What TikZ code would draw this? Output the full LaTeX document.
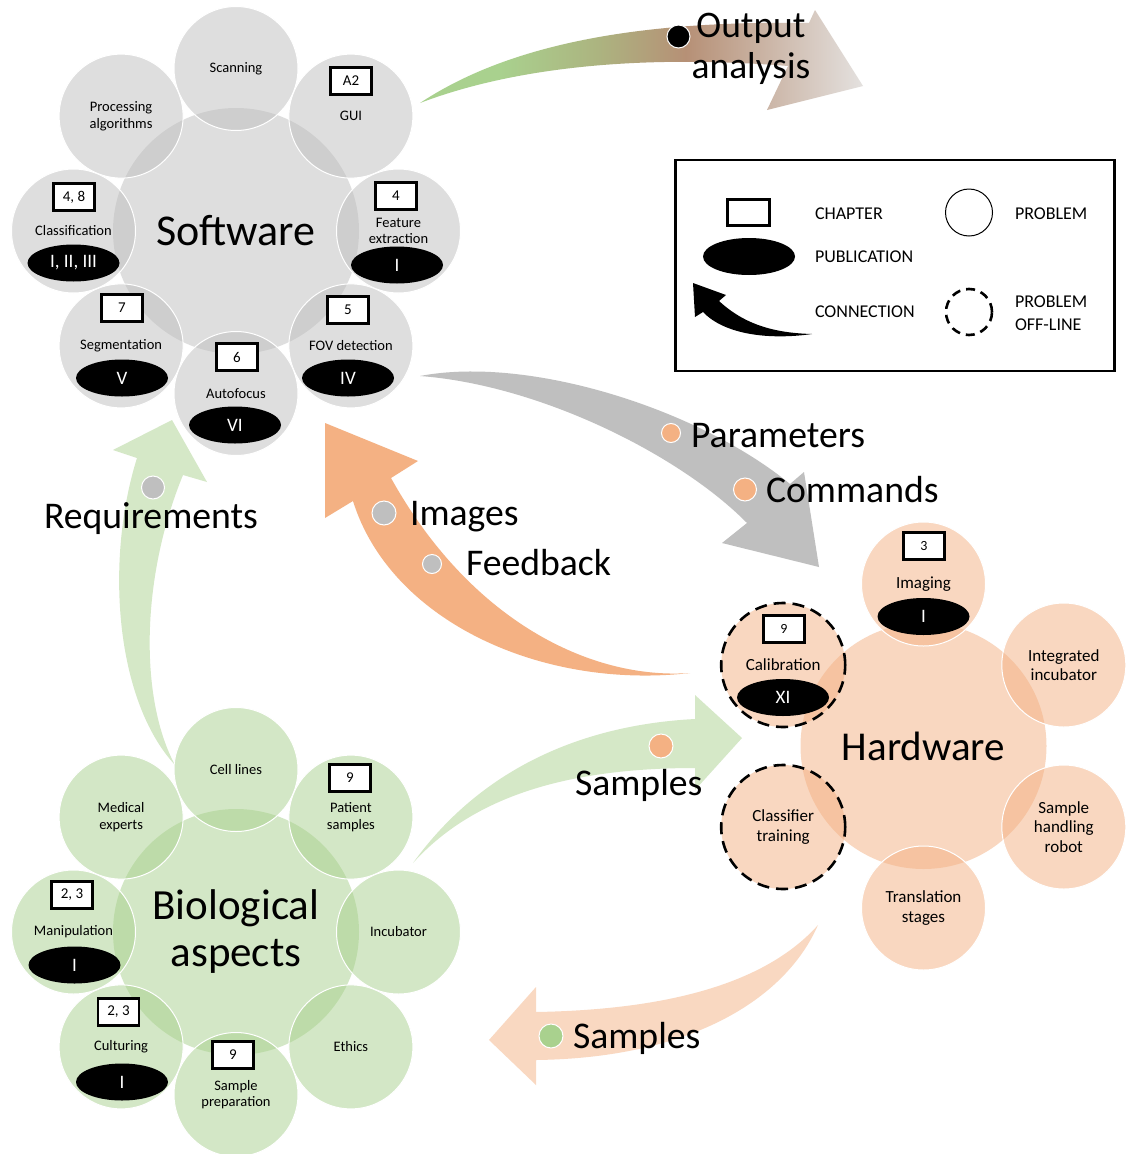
\documentclass[tikz,border=0pt]{standalone}
\usepackage{fontspec}
\setmainfont{Carlito}
\usetikzlibrary{shapes.geometric}
\definecolor{cgray}{RGB}{191,191,191}
\definecolor{corange}{RGB}{244,177,131}
\definecolor{cgreen}{RGB}{169,209,142}
\definecolor{clgreen}{RGB}{213,232,199}
\definecolor{clpeach}{RGB}{249,216,193}
\definecolor{cbrown}{RGB}{182,144,118}
\definecolor{colive}{RGB}{172,180,128}
\definecolor{clgray}{RGB}{228,225,223}
\pgfdeclarehorizontalshading{outsh}{100bp}{color(0bp)=(cgreen); color(25bp)=(cgreen); color(34bp)=(cgreen); color(45bp)=(colive); color(55bp)=(cbrown); color(75bp)=(clgray); color(100bp)=(clgray)}
\begin{document}
\begin{tikzpicture}[x=1pt,y=-1pt,
 every node/.style={inner sep=0pt,outer sep=0pt},
 hub/.style={circle,minimum size=246pt,fill=#1,fill opacity=0.5,text opacity=1,align=center},
 satc/.style={circle,minimum size=124pt,fill=#1,fill opacity=0.5,text opacity=1,draw=white,line width=1pt,align=center},
 dsat/.style={satc=corange,draw=black,line width=2.6pt,dash pattern=on 12pt off 7pt},
 chap/.style={draw=black,fill=white,line width=2.6pt,minimum width=41pt,minimum height=27pt,font=\fontsize{15}{15}\selectfont},
 pub/.style={ellipse,fill=black,minimum width=92pt,minimum height=37pt,text=white,font=\fontsize{19}{19}\selectfont},
 bead/.style={circle,fill=#1,draw=white,line width=1pt,minimum size=23pt},
 flowlbl/.style={font=\fontsize{37.7}{41}\selectfont,anchor=base west},
 bigtxt/.style={font=\fontsize{43}{47}\selectfont},
 stxt/.style={font=\fontsize{14.5}{16.5}\selectfont},
 htxt/.style={font=\fontsize{17}{19.5}\selectfont},
 legtxt/.style={font=\fontsize{18}{23}\selectfont,anchor=base west}
]
\useasboundingbox (0,0) rectangle (1127,1154);
\fill[white] (0,0) rectangle (1127,1154);

% ---------- block arrows ----------
\shade[shading=outsh]
  (420,103) .. controls (500,50) and (620,20) .. (809,23) -- (815,10) -- (863,86) -- (767,110) -- (788,66)
  .. controls (650,55) and (520,65) .. (420,103) -- cycle;
\fill[cgray] (420,376) .. controls (530,355) and (700,410) .. (790,484) -- (804,472) -- (819,567) -- (722,543) -- (747,523)
  .. controls (680,455) and (540,385) .. (420,376) -- cycle;
\fill[corange] (690,673) .. controls (590,680) and (470,620) .. (391,478) -- (418,461) -- (325,423) -- (325,518) -- (353,501)
  .. controls (390,620) and (540,690) .. (690,673) -- cycle;
\fill[clgreen] (175,765) .. controls (115,700) and (105,560) .. (137,458) -- (113,450) -- (172,420) -- (207,482) -- (183,475)
  .. controls (140,580) and (140,700) .. (175,765) -- cycle;
\fill[clgreen] (413,863) .. controls (480,770) and (580,725) .. (695,719) -- (695,695) -- (742,738) -- (695,790) -- (695,768)
  .. controls (560,768) and (470,800) .. (413,863) -- cycle;
\fill[clpeach] (818,925) .. controls (760,990) and (650,1010) .. (536,1012) -- (536,987) -- (489,1040) -- (536,1085) -- (536,1060)
  .. controls (690,1058) and (785,1000) .. (818,925) -- cycle;

% ---------- Software ----------
\node[hub=cgray,font=\fontsize{44}{48}\selectfont] (sw) at (236,231) {Software};
\node[satc=cgray,stxt] (scan) at (236,68.5) {Scanning};
\node[satc=cgray,stxt] (gui) at (350.9,116.1) {GUI};
\node[satc=cgray,stxt] (feat) at (398.5,231) {Feature\\extraction};
\node[satc=cgray,stxt] (fov) at (350.9,345.9) {FOV detection};
\node[satc=cgray,stxt] (af) at (236,393.5) {Autofocus};
\node[satc=cgray,stxt] (seg) at (121.1,345.9) {Segmentation};
\node[satc=cgray,stxt] (cls) at (73.5,231) {Classification};
\node[satc=cgray,stxt] (proc) at (121.1,116.1) {Processing\\algorithms};
\node[chap] (cA2) at (351,81) {A2};
\node[chap] (c4) at (396,196) {4};
\node[chap] (c5) at (348,310) {5};
\node[chap] (c6) at (237,357) {6};
\node[chap] (c7) at (122,308) {7};
\node[chap] (c48) at (74,197) {4, 8};
\node[pub] (p123) at (73.5,263) {I, II, III};
\node[pub] (pfeat) at (397,265) {I};
\node[pub] (pfov) at (348,378) {IV};
\node[pub] (paf) at (235,425) {VI};
\node[pub] (pseg) at (122,378) {V};

% ---------- Hardware ----------
\node[hub=corange,font=\fontsize{41}{46}\selectfont] (hw) at (923.5,746) {Hardware};
\node[satc=corange,htxt] (img) at (923.5,584) {Imaging};
\node[satc=corange,htxt] (inc) at (1063.8,665) {Integrated\\incubator};
\node[satc=corange,htxt] (rob) at (1063.8,827) {Sample\\handling\\robot};
\node[satc=corange,htxt] (trs) at (923.5,908) {Translation\\stages};
\node[dsat,htxt] (clt) at (783.2,827) {Classifier\\training};
\node[dsat,htxt] (cal) at (783.2,665) {Calibration};
\node[chap,font=\fontsize{14}{14}\selectfont] (c3) at (924,546) {3};
\node[chap,font=\fontsize{14}{14}\selectfont] (c9h) at (784,629) {9};
\node[pub] (pimg) at (923.5,616.5) {I};
\node[pub] (pcal) at (783,697.5) {XI};

% ---------- Biological aspects ----------
\node[hub=cgreen,bigtxt] (bio) at (236,932) {Biological\\aspects};
\node[satc=cgreen,stxt] (cell) at (236,769.5) {Cell lines};
\node[satc=cgreen,stxt] (pat) at (350.9,817.1) {Patient\\samples};
\node[satc=cgreen,stxt] (incb) at (398.5,932) {Incubator};
\node[satc=cgreen,stxt] (eth) at (350.9,1046.9) {Ethics};
\node[satc=cgreen,stxt] (sprep) at (236,1094.5) {Sample\\preparation};
\node[satc=cgreen,stxt] (cult) at (121.1,1046.9) {Culturing};
\node[satc=cgreen,stxt] (manip) at (73.5,932) {Manipulation};
\node[satc=cgreen,stxt] (med) at (121.1,817.1) {Medical\\experts};
\node[chap] (c9p) at (350,778) {9};
\node[chap] (c23m) at (72,895) {2, 3};
\node[chap] (c23c) at (118.5,1012) {2, 3};
\node[chap] (c9s) at (233,1055) {9};
\node[pub] (pman) at (74.5,965) {I};
\node[pub] (pcul) at (122,1082) {I};

% ---------- dots ----------
\node[bead=black] (dout) at (678.5,36.5) {};
\node[bead=corange,minimum size=19pt] (dpar) at (671,433) {};
\node[bead=corange] (dcom) at (745,489.5) {};
\node[bead=cgray,minimum size=24pt] (dimg) at (384,513) {};
\node[bead=cgray,minimum size=19pt] (dfb) at (432,564) {};
\node[bead=cgray] (dreq) at (153,487.5) {};
\node[bead=corange,minimum size=24pt] (dsam1) at (661,746) {};
\node[bead=cgreen,minimum size=24pt] (dsam2) at (551,1036) {};

% ---------- flow labels ----------
\node[font=\fontsize{37.5}{41}\selectfont,align=center] (tout) at (751,49) {Output\\analysis};
\node[flowlbl] (tpar) at (691,447) {Parameters};
\node[flowlbl] (tcom) at (766,502) {Commands};
\node[flowlbl] (timg) at (410,525) {Images};
\node[flowlbl] (tfb) at (466,575) {Feedback};
\node[flowlbl] (treq) at (44,528) {Requirements};
\node[flowlbl] (tsam1) at (575,795) {Samples};
\node[flowlbl] (tsam2) at (573,1048) {Samples};

% ---------- legend ----------
\node[draw=black,line width=2.6pt,minimum width=439pt,minimum height=211pt,fill=white] (leg) at (895,265.5) {};
\node[chap,minimum width=42pt,minimum height=26pt] (lchap) at (748.5,212.5) {};
\node[pub] (lpub) at (749,256.5) {};
\fill[black] (812,334) .. controls (775,333) and (745,325) .. (719,301) -- (726,295) -- (693,283) -- (695,317) -- (703,312)
  .. controls (725,335) and (770,340) .. (812,334) -- cycle;
\node[circle,draw=black,line width=1pt,minimum size=47pt] (lprob) at (969,212.5) {};
\node[circle,draw=black,line width=2.6pt,dash pattern=on 9pt off 6pt,minimum size=46pt] (loff) at (969,312) {};
\node[legtxt] at (815,219) {CHAPTER};
\node[legtxt] at (815,262) {PUBLICATION};
\node[legtxt] at (815,317) {CONNECTION};
\node[legtxt] at (1015,219) {PROBLEM};
\node[legtxt] at (1015,307) {PROBLEM};
\node[legtxt] at (1015,330) {OFF-LINE};
\end{tikzpicture}
\end{document}
